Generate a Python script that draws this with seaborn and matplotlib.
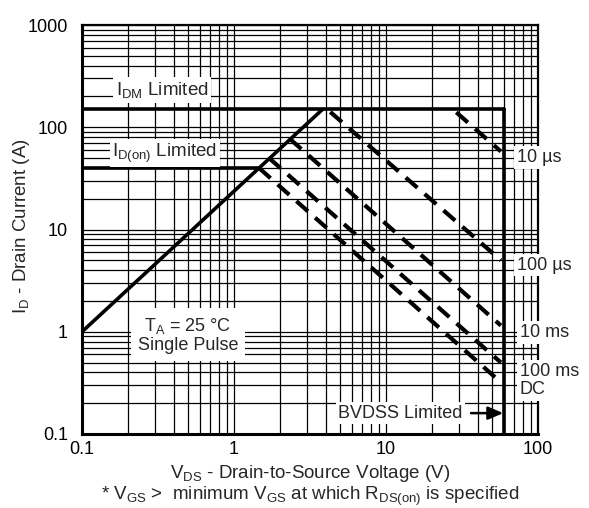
import numpy as np
import pandas as pd
import matplotlib
matplotlib.use("Agg")
import matplotlib.pyplot as plt
from matplotlib.ticker import LogLocator, FixedLocator, NullFormatter
import seaborn as sns

# Operating-limit boundaries
idm_current = 150.0        # A, pulsed drain current limit
idon_current = 40.0        # A, on-state current limit
bvdss_voltage = 60.0       # V, breakdown limit
rds_voltage = [0.1, 3.83]  # V, R_DS(on) limited line
rds_current = [1.0, 150.0] # A

# Single-pulse SOA lines
pulse_labels = ["10 µs", "100 µs", "10 ms", "100 ms", "DC"]
pulse_v_start = [29.0, 4.3, 2.33, 1.70, 1.46]
pulse_i_start = [140.0, 141.0, 77.0, 50.0, 40.0]
pulse_v_end = [57.0, 57.0, 57.0, 57.0, 57.0]
pulse_i_end = [58.0, 5.0, 1.15, 0.50, 0.32]

x_ticks = [0.1, 1, 10, 100]
x_ticklabels = ["0.1", "1", "10", "100"]
y_ticks = [0.1, 1, 10, 100, 1000]
y_ticklabels = ["0.1", "1", "10", "100", "1000"]

sns.set_theme(style="white")
plt.rcParams["font.family"] = ["Liberation Sans", "DejaVu Sans"]
plt.rcParams["mathtext.fontset"] = "custom"
plt.rcParams["mathtext.rm"] = "Liberation Sans"
plt.rcParams["mathtext.it"] = "Liberation Sans"
plt.rcParams["mathtext.default"] = "rm"

W, H = 589, 508
fig = plt.figure(figsize=(W / 100, H / 100), dpi=100)
ax = fig.add_axes([82 / W, 1 - 434 / H, (538 - 82) / W, (434 - 25) / H])
ax.set_xscale("log")
ax.set_yscale("log")
ax.set_xlim(0.1, 100)
ax.set_ylim(0.1, 1000)

ax.xaxis.set_major_locator(FixedLocator(x_ticks))
ax.set_xticklabels(x_ticklabels)
ax.yaxis.set_major_locator(FixedLocator(y_ticks))
ax.set_yticklabels(y_ticklabels)
ax.xaxis.set_minor_locator(LogLocator(base=10, subs=np.arange(2, 10), numticks=20))
ax.yaxis.set_minor_locator(LogLocator(base=10, subs=np.arange(2, 10), numticks=20))
ax.xaxis.set_minor_formatter(NullFormatter())
ax.yaxis.set_minor_formatter(NullFormatter())
ax.tick_params(which="both", length=0, labelsize=13, colors="black")
ax.tick_params(axis="x", pad=5)
ax.tick_params(axis="y", pad=10)
ax.set_axisbelow(True)
ax.grid(which="both", color="black", lw=0.9)
for side in ["left", "bottom"]:
    ax.spines[side].set_linewidth(2.2)
for side in ["top", "right"]:
    ax.spines[side].set_linewidth(1.6)
for sp in ax.spines.values():
    sp.set_color("black")

solid = dict(color="black", lw=2.6, ax=ax, legend=False, estimator=None, sort=False)

# I_DM limit: from left edge to breakdown line
sns.lineplot(x=[0.1, bvdss_voltage], y=[idm_current, idm_current], **solid)
# I_D(on) limit: until it meets the R_DS(on) line
slope = np.log10(rds_current[1] / rds_current[0]) / np.log10(rds_voltage[1] / rds_voltage[0])
v_knee = rds_voltage[0] * (idon_current / rds_current[0]) ** (1 / slope)
sns.lineplot(x=[0.1, v_knee], y=[idon_current, idon_current], **solid)
# R_DS(on) limit
sns.lineplot(x=rds_voltage, y=rds_current, **solid)
# BVDSS limit
sns.lineplot(x=[bvdss_voltage, bvdss_voltage], y=[0.1, idm_current], **solid)

# Pulse-duration lines
for vs, is_, ve, ie in zip(pulse_v_start, pulse_i_start, pulse_v_end, pulse_i_end):
    seg = pd.DataFrame({"V": [vs, ve], "I": [is_, ie]})
    sns.lineplot(data=seg, x="V", y="I", color="black", lw=3.0, ax=ax,
                 legend=False, estimator=None, sort=False)
    ln = ax.lines[-1]
    ln.set_dashes((3.7, 2.3))
    ln.set_dash_capstyle("butt")

ax.set_xlabel("")
ax.set_ylabel("")

box = dict(facecolor="white", edgecolor="none", pad=2)
label_offsets = [(16, -6), (16, -5), (19, -7), (19, -9), (19, -7)]
for lab, ve, ie, off in zip(pulse_labels, pulse_v_end, pulse_i_end, label_offsets):
    ax.annotate(lab, xy=(ve, ie), xytext=off, textcoords="offset pixels",
                ha="left", va="center", fontsize=13, bbox=box,
                annotation_clip=False, zorder=4)

# Limit annotations with white backing
ax.text((162 - 82) / 456, 1 - (90 - 25) / 409, r"I$_{\mathrm{DM}}$ Limited",
        transform=ax.transAxes, ha="center", va="center", fontsize=13.5, bbox=box, zorder=4)
ax.text((165 - 82) / 456, 1 - (153 - 25) / 409, r"I$_{\mathrm{D(on)}}$ Limited",
        transform=ax.transAxes, ha="center", va="center", fontsize=13.5, bbox=box, zorder=4)
ax.text((188 - 82) / 456, 1 - (335 - 25) / 409, "T$_{\\mathrm{A}}$ = 25 °C\nSingle Pulse",
        transform=ax.transAxes, ha="center", va="center", fontsize=13, linespacing=1.05,
        bbox=dict(facecolor="white", edgecolor="none", pad=5), zorder=4)
ax.annotate("BVDSS Limited", xy=(bvdss_voltage * 0.985, 0.16), xytext=(32, 0.16),
            textcoords="data", ha="right", va="center", fontsize=13, bbox=box, zorder=4,
            arrowprops=dict(arrowstyle="-|>,head_length=0.7,head_width=0.3",
                            color="black", lw=1.8, shrinkA=4, shrinkB=0))

fig.text(22 / W, 1 - 226 / H, r"I$_{\mathrm{D}}$ - Drain Current (A)", rotation=90,
         ha="center", va="center", fontsize=13.5)
fig.text(310 / W, 1 - 473 / H, r"V$_{\mathrm{DS}}$ - Drain-to-Source Voltage (V)",
         ha="center", va="center", fontsize=13.5)
fig.text(310 / W, 1 - 496 / H,
         r"* V$_{\mathrm{GS}}$ >  minimum V$_{\mathrm{GS}}$ at which R$_{\mathrm{DS(on)}}$ is specified",
         ha="center", va="center", fontsize=13.5)

fig.savefig("out.png", dpi=100)
